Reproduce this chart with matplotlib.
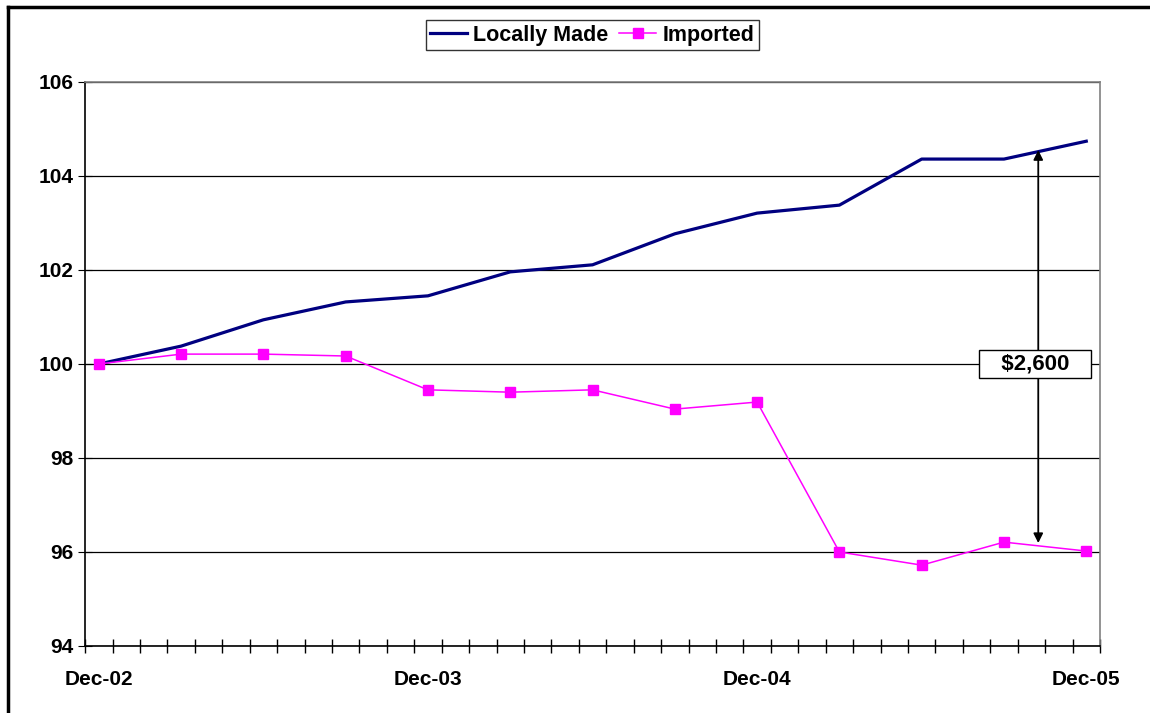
import numpy as np
import matplotlib
matplotlib.use('Agg')
import matplotlib.pyplot as plt
from matplotlib.lines import Line2D

plt.rcParams['font.family'] = ['Liberation Sans', 'DejaVu Sans']
plt.rcParams['font.weight'] = 'bold'

# quarterly points, x in months since Dec-02
months = [0, 3, 6, 9, 12, 15, 18, 21, 24, 27, 30, 33, 36]
locally_made = [100.00, 100.38, 100.94, 101.32, 101.45, 101.96, 102.11,
                102.77, 103.21, 103.38, 104.36, 104.36, 104.74]
imported = [100.00, 100.21, 100.21, 100.17, 99.45, 99.40, 99.45,
            99.04, 99.19, 96.00, 95.72, 96.21, 96.02]
tick_months = [0, 12, 24, 36]
tick_labels = ['Dec-02', 'Dec-03', 'Dec-04', 'Dec-05']
gap_x = 34.25
gap_top = 104.55
gap_bottom = 96.19
gap_label = '$2,600'

fig = plt.figure(figsize=(11.5, 7.13), dpi=100)
ax = fig.add_axes([0.074, 0.094, 0.8825, 0.791])

ax.plot(months, locally_made, color='#000080', lw=2.3, label='Locally Made', zorder=3)
ax.plot(months, imported, color='#FF00FF', lw=1.1, marker='s', markersize=7,
        markeredgecolor='#FF00FF', label='Imported', zorder=3)

ax.set_xlim(-0.5, 36.5)
ax.set_ylim(94, 106)
ax.set_yticks(np.arange(94, 107, 2))
ax.yaxis.grid(True, color='black', lw=0.9)
ax.set_axisbelow(True)

# month boundary ticks, labels at the yearly points
ax.set_xticks(np.arange(-0.5, 37, 1), minor=True)
ax.set_xticks(tick_months)
ax.set_xticklabels(tick_labels)
ax.tick_params(axis='x', which='major', length=0, pad=17, labelsize=15)
ax.tick_params(axis='x', which='minor', direction='inout', length=10, width=1)
ax.tick_params(axis='y', direction='inout', length=10, labelsize=15, pad=3)

for side in ['top', 'right']:
    ax.spines[side].set_color('#808080')
    ax.spines[side].set_linewidth(1.2)
for side in ['left', 'bottom']:
    ax.spines[side].set_color('black')
    ax.spines[side].set_linewidth(1.2)

# gap arrow with value box
ax.annotate('', xy=(gap_x, gap_top), xytext=(gap_x, gap_bottom),
            arrowprops=dict(arrowstyle='<|-|>', color='black', lw=1.3,
                            mutation_scale=14, shrinkA=0, shrinkB=0), zorder=4)
ax.text(gap_x - 0.12, 100.0, '   ' + gap_label + '   ',
        ha='center', va='center', fontsize=16, fontweight='bold', zorder=5,
        bbox=dict(boxstyle='square,pad=0.15', fc='white', ec='black', lw=1))

leg = fig.legend(loc='center', bbox_to_anchor=(0.515, 0.9505), ncol=2,
                 frameon=True, fancybox=False, edgecolor='black',
                 fontsize=15.5, handlelength=1.7, handletextpad=0.3,
                 columnspacing=0.5, borderpad=0.2, borderaxespad=0)
leg.get_frame().set_linewidth(1)

# outer chart border (only top and left fall inside the image)
fig.lines.append(Line2D([8 / 1150, 1.0], [1 - 7 / 713, 1 - 7 / 713],
                        transform=fig.transFigure, color='black', lw=2.5))
fig.lines.append(Line2D([8 / 1150, 8 / 1150], [0.0, 1 - 7 / 713],
                        transform=fig.transFigure, color='black', lw=2.5))

fig.savefig('out.png', dpi=100)
